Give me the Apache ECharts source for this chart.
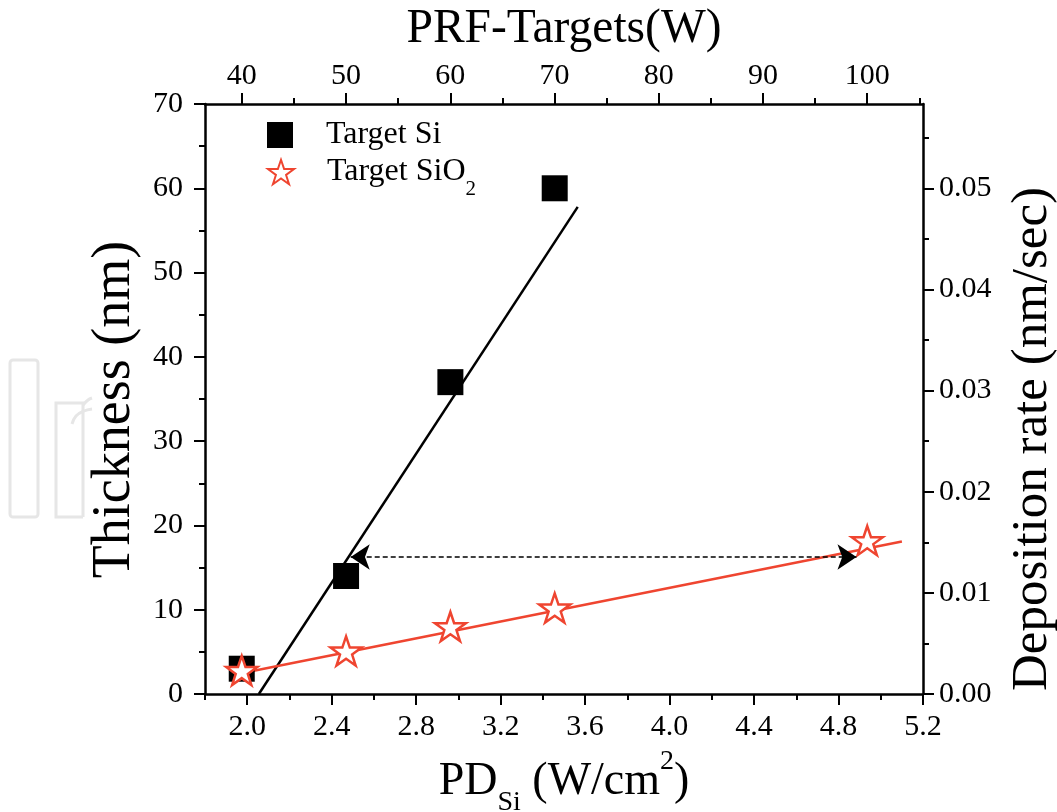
<!DOCTYPE html>
<html><head><meta charset="utf-8">
<script src="https://cdn.jsdelivr.net/npm/echarts@6/dist/echarts.min.js"></script>
<style>html,body{margin:0;padding:0;background:#fff}#c{width:1057px;height:812px}</style>
</head><body><div id="c"></div>
<script>
const FONT = "'Liberation Serif','Times New Roman',serif";
const RED = '#ef4530';

// ---- data ----
const pdSi = [1.974, 2.468, 2.962, 3.456];
const thickSi = [3.0, 14.0, 37.0, 60.0];
const pdSiO2 = [1.974, 2.468, 2.962, 3.456, 4.936];
const thickSiO2 = [2.8, 5.1, 8.0, 10.2, 18.2];
const fitSiX = [2.055, 3.565];
const fitSiY = [0, 57.8];
const fitSiO2X = [1.96, 5.10];
const fitSiO2Y = [2.4, 18.1];
const arrowX = [2.49, 4.885];
const arrowY = [16.25, 16.25];

// ---- axis ticks ----
const pdTicks = [2.0, 2.4, 2.8, 3.2, 3.6, 4.0, 4.4, 4.8, 5.2];
const pdMinor = [1.8, 2.2, 2.6, 3.0, 3.4, 3.8, 4.2, 4.6, 5.0];
const prfTicks = [40, 50, 60, 70, 80, 90, 100];
const prfMinor = [45, 55, 65, 75, 85, 95, 105];
const rateTicks = [0, 0.01, 0.02, 0.03, 0.04, 0.05];
const rateMinor = [0.005, 0.015, 0.025, 0.035, 0.045, 0.055];
const pdMin = 1.8, pdMax = 5.2;
const thickMin = 0, thickMax = 70;
const wattToPd = 0.04936;      // PD = P / area
const secondsPerRun = 1200;    // rate = thickness / time

const STAR = 'path://M50,0 L61.8,35.1 L98.9,35.1 L69.1,57 L80.3,91.9 L50,70.3 L19.7,91.9 L30.9,57 L1.1,35.1 L38.2,35.1 Z';

const line = {show: true, onZero: false, lineStyle: {color: '#000', width: 2.5}};
const noLine = {show: false, onZero: false};
const tickStyle = {color: '#000', width: 2};
const lab = {fontFamily: FONT, fontSize: 30, color: '#000'};
const base = {type: 'value', splitLine: {show: false}, scale: true};
const legendCommon = {
  orient: 'vertical', left: 267, padding: 0,
  itemWidth: 26, itemHeight: 26, selectedMode: false
};
const WM = {fill: 'none', stroke: '#e6e6e6', lineWidth: 3};

const chart = echarts.init(document.getElementById('c'), null, {renderer: 'canvas'});
chart.setOption({
  animation: false,
  backgroundColor: '#fff',
  grid: {left: 205, right: 134, top: 104, bottom: 118, containLabel: false, outerBoundsMode: 'none'},
  graphic: [
    {type: 'rect', z: -10, shape: {x: 10, y: 360, width: 28, height: 157, r: 3}, style: WM},
    {type: 'polyline', z: -10, shape: {points: [[83, 517], [56, 517], [56, 403], [83, 403], [83, 517]]}, style: WM},
    {type: 'polyline', z: -10, shape: {points: [[72, 424], [76, 416], [84, 411], [92, 409]], smooth: 0.4}, style: WM},
    {type: 'polyline', z: -10, shape: {points: [[83, 405], [88, 400], [92, 398]], smooth: 0.4}, style: WM}
  ],
  legend: [
    Object.assign({}, legendCommon, {
      data: ['Target Si'], top: 119,
      textStyle: {fontFamily: FONT, fontSize: 32, color: '#000', padding: [0, 0, 0, 28]}
    }),
    Object.assign({}, legendCommon, {
      data: ['Target SiO2'], top: 144,
      formatter: () => '{t|Target SiO}{s|2}',
      textStyle: {
        fontFamily: FONT, fontSize: 32, color: '#000', padding: [0, 0, 0, 28],
        rich: {
          t: {fontFamily: FONT, fontSize: 32, lineHeight: 32, color: '#000', verticalAlign: 'middle'},
          s: {fontFamily: FONT, fontSize: 21, lineHeight: 2, padding: [35, 0, 0, 0], color: '#000', verticalAlign: 'middle'}
        }
      }
    })
  ],
  xAxis: [
    Object.assign({}, base, {
      position: 'bottom', min: pdMin, max: pdMax, axisLine: line,
      axisTick: {show: true, customValues: pdTicks, length: 11, lineStyle: tickStyle},
      axisLabel: Object.assign({customValues: pdTicks, margin: 18, formatter: v => v.toFixed(1)}, lab),
      name: '{m|PD}{s|Si}{m| (W/cm}{p|2}{m|)}', nameLocation: 'middle', nameGap: 54,
      nameTextStyle: {
        fontFamily: FONT, fontSize: 46, color: '#000',
        rich: {
          m: {fontFamily: FONT, fontSize: 46, lineHeight: 46, color: '#000', verticalAlign: 'middle'},
          s: {fontFamily: FONT, fontSize: 28, lineHeight: 28, padding: [42, 0, 0, 0], color: '#000', verticalAlign: 'middle'},
          p: {fontFamily: FONT, fontSize: 28, lineHeight: 28, padding: [0, 0, 40, 0], color: '#000', verticalAlign: 'middle'}
        }
      }
    }),
    Object.assign({}, base, {
      position: 'bottom', min: pdMin, max: pdMax, axisLine: noLine,
      axisTick: {show: true, customValues: pdMinor, length: 6, lineStyle: tickStyle},
      axisLabel: {show: false}
    }),
    Object.assign({}, base, {
      position: 'top', min: pdMin / wattToPd, max: pdMax / wattToPd, axisLine: line,
      axisTick: {show: true, customValues: prfTicks, length: 11, lineStyle: tickStyle},
      axisLabel: Object.assign({customValues: prfTicks, margin: 13}, lab),
      name: 'PRF-Targets(W)', nameLocation: 'middle', nameGap: 51,
      nameTextStyle: {fontFamily: FONT, fontSize: 47.5, lineHeight: 46, color: '#000'}
    }),
    Object.assign({}, base, {
      position: 'top', min: pdMin / wattToPd, max: pdMax / wattToPd, axisLine: noLine,
      axisTick: {show: true, customValues: prfMinor, length: 6, lineStyle: tickStyle},
      axisLabel: {show: false}
    })
  ],
  yAxis: [
    Object.assign({}, base, {
      position: 'left', min: thickMin, max: thickMax, interval: 10, axisLine: line,
      axisTick: {show: true, length: 11, lineStyle: tickStyle},
      minorTick: {show: true, splitNumber: 2, length: 6, lineStyle: tickStyle},
      axisLabel: Object.assign({margin: 22}, lab),
      name: 'Thickness (nm)', nameLocation: 'middle', nameGap: 57,
      nameTextStyle: {fontFamily: FONT, fontSize: 54, lineHeight: 54, color: '#000', padding: [0, 21, 0, 0]}
    }),
    Object.assign({}, base, {
      position: 'right', min: thickMin / secondsPerRun, max: thickMax / secondsPerRun, axisLine: line,
      axisTick: {show: true, customValues: rateTicks, length: 11, lineStyle: tickStyle},
      axisLabel: Object.assign({customValues: rateTicks, margin: 16, formatter: v => v.toFixed(2)}, lab),
      name: 'Deposition rate (nm/sec)', nameLocation: 'middle', nameGap: 84,
      nameTextStyle: {fontFamily: FONT, fontSize: 51, lineHeight: 51, color: '#000', padding: [0, 80, 0, 0]}
    }),
    Object.assign({}, base, {
      position: 'right', min: thickMin / secondsPerRun, max: thickMax / secondsPerRun, axisLine: noLine,
      axisTick: {show: true, customValues: rateMinor, length: 6, lineStyle: tickStyle},
      axisLabel: {show: false}
    })
  ],
  series: [
    {
      name: 'fit Si', type: 'line', xAxisIndex: 0, yAxisIndex: 0, z: 1,
      data: fitSiX.map((x, i) => [x, fitSiY[i]]), symbol: 'none',
      lineStyle: {color: '#000', width: 2.5}, silent: true
    },
    {
      name: 'fit SiO2', type: 'line', xAxisIndex: 0, yAxisIndex: 0, z: 1,
      data: fitSiO2X.map((x, i) => [x, fitSiO2Y[i]]), symbol: 'none',
      lineStyle: {color: RED, width: 2.5}, silent: true
    },
    {
      name: 'arrow', type: 'line', xAxisIndex: 0, yAxisIndex: 0, z: 2, data: [], silent: true,
      markLine: {
        silent: true, symbol: ['arrow', 'arrow'], symbolSize: 19,
        label: {show: false}, emphasis: {disabled: true},
        lineStyle: {color: '#000', width: 1.5, type: [5, 3]},
        itemStyle: {color: '#000'},
        data: [[{coord: [arrowX[0], arrowY[0]]}, {coord: [arrowX[1], arrowY[1]]}]]
      }
    },
    {
      name: 'Target Si', type: 'scatter', xAxisIndex: 0, yAxisIndex: 0, z: 3,
      data: pdSi.map((x, i) => [x, thickSi[i]]),
      symbol: 'rect', symbolSize: 26,
      itemStyle: {color: '#000', opacity: 1}, emphasis: {disabled: true}
    },
    {
      name: 'Target SiO2', type: 'scatter', xAxisIndex: 0, yAxisIndex: 0, z: 4,
      data: pdSiO2.map((x, i) => [x, thickSiO2[i]]),
      symbol: STAR, symbolSize: 31, symbolKeepAspect: true,
      itemStyle: {color: '#fff', borderColor: RED, borderWidth: 2.5, opacity: 1}, emphasis: {disabled: true}
    }
  ]
});
</script>
</body></html>
